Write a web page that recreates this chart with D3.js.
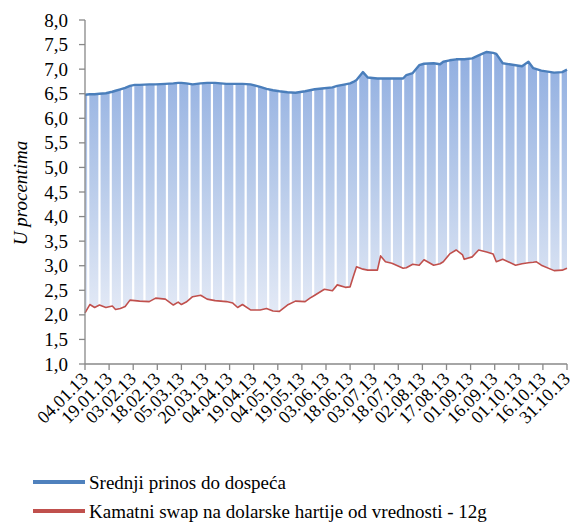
<!DOCTYPE html>
<html><head><meta charset="utf-8">
<script src="https://cdn.jsdelivr.net/npm/d3@7"></script>
</head>
<body><svg id="chart" width="573" height="523"></svg>
<script>
// ---- data ----
const dates = ["2013-01-04","2013-01-07","2013-01-10","2013-01-13","2013-01-17","2013-01-21","2013-01-23","2013-01-26","2013-01-29","2013-02-01","2013-02-04","2013-02-07","2013-02-13","2013-02-17","2013-02-23","2013-02-28","2013-03-03","2013-03-05","2013-03-08","2013-03-12","2013-03-17","2013-03-21","2013-03-26","2013-04-02","2013-04-06","2013-04-09","2013-04-12","2013-04-17","2013-04-23","2013-04-27","2013-05-01","2013-05-05","2013-05-10","2013-05-15","2013-05-21","2013-05-24","2013-05-27","2013-06-02","2013-06-07","2013-06-10","2013-06-15","2013-06-18","2013-06-20","2013-06-22","2013-06-26","2013-06-29","2013-07-05","2013-07-07","2013-07-10","2013-07-14","2013-07-21","2013-07-23","2013-07-27","2013-07-31","2013-08-03","2013-08-09","2013-08-13","2013-08-15","2013-08-19","2013-08-23","2013-08-27","2013-08-28","2013-09-02","2013-09-06","2013-09-11","2013-09-15","2013-09-17","2013-09-21","2013-09-29","2013-10-03","2013-10-07","2013-10-10","2013-10-12","2013-10-15","2013-10-23","2013-10-28","2013-10-31"];
const srednjiPrinos = [6.48,6.49,6.49,6.50,6.51,6.54,6.56,6.59,6.62,6.66,6.68,6.68,6.69,6.69,6.70,6.71,6.72,6.72,6.71,6.69,6.71,6.72,6.72,6.70,6.70,6.70,6.70,6.69,6.64,6.60,6.57,6.55,6.53,6.52,6.55,6.57,6.59,6.61,6.63,6.66,6.69,6.71,6.74,6.78,6.94,6.83,6.81,6.81,6.81,6.81,6.81,6.88,6.92,7.08,7.11,7.12,7.10,7.15,7.18,7.20,7.20,7.20,7.22,7.28,7.35,7.33,7.31,7.12,7.08,7.06,7.15,7.02,7.00,6.97,6.93,6.94,6.99];
const kamatniSwap = [2.04,2.21,2.15,2.20,2.15,2.18,2.11,2.13,2.17,2.30,2.29,2.28,2.27,2.34,2.32,2.20,2.26,2.21,2.26,2.37,2.40,2.32,2.29,2.27,2.24,2.15,2.21,2.10,2.10,2.13,2.08,2.07,2.20,2.28,2.27,2.34,2.40,2.52,2.49,2.61,2.56,2.57,2.78,2.98,2.93,2.91,2.91,3.20,3.08,3.05,2.95,2.96,3.03,3.01,3.12,3.01,3.04,3.08,3.24,3.32,3.22,3.13,3.18,3.32,3.28,3.24,3.08,3.13,3.01,3.04,3.06,3.07,3.08,3.01,2.90,2.91,2.95];
const xTickLabels = ["04.01.13","19.01.13","03.02.13","18.02.13","05.03.13","20.03.13","04.04.13","19.04.13","04.05.13","19.05.13","03.06.13","18.06.13","03.07.13","18.07.13","02.08.13","17.08.13","01.09.13","16.09.13","01.10.13","16.10.13","31.10.13"];
const yTicks = [1.0,1.5,2.0,2.5,3.0,3.5,4.0,4.5,5.0,5.5,6.0,6.5,7.0,7.5,8.0];
const seriesNames = ["Srednji prinos do dospeća","Kamatni swap na dolarske hartije od vrednosti - 12g"];
const yTitle = "U procentima";

// ---- setup ----
const FONT = "'Liberation Serif', monospace";
const parseISO = d3.utcParse("%Y-%m-%d");
const parseLbl = d3.utcParse("%d.%m.%y");
const data = dates.map((d,i)=>({date:parseISO(d), hi:srednjiPrinos[i], lo:kamatniSwap[i]}));
const tickDates = xTickLabels.map(parseLbl);

const svg = d3.select("#chart").style("display","block");
d3.select("body").style("margin","0");
const x = d3.scaleUtc().domain([tickDates[0], tickDates[tickDates.length-1]]).range([85, 567]);
const y = d3.scaleLinear().domain([1, 8]).range([364, 20]);

const defs = svg.append("defs");
const grad = defs.append("linearGradient").attr("id","bandGrad")
  .attr("gradientUnits","userSpaceOnUse").attr("x1",0).attr("x2",0)
  .attr("y1", y(7.4)).attr("y2", y(2.0));
grad.append("stop").attr("offset","0%").attr("stop-color","#8fade0");
grad.append("stop").attr("offset","50%").attr("stop-color","#b8cbea");
grad.append("stop").attr("offset","100%").attr("stop-color","#e4eaf6");

// band between the two series
const area = d3.area().x(d=>x(d.date)).y0(d=>y(d.lo)).y1(d=>y(d.hi));
svg.append("path").datum(data).attr("d", area).attr("fill","url(#bandGrad)");

// weekend gaps (no trading data)
const sundays = d3.utcSunday.range(x.domain()[0], x.domain()[1]);
svg.append("g").selectAll("rect").data(sundays).join("rect")
  .attr("x", d=>x(d)-1.1).attr("width", 2.2)
  .attr("y", y(7.6)).attr("height", y(1.9)-y(7.6))
  .attr("fill","#ffffff");

// lines
const lineHi = d3.line().x(d=>x(d.date)).y(d=>y(d.hi));
const lineLo = d3.line().x(d=>x(d.date)).y(d=>y(d.lo));
svg.append("path").datum(data).attr("d", lineHi).attr("fill","none")
  .attr("stroke","#4a7ebb").attr("stroke-width",2.4).attr("stroke-linejoin","round");
svg.append("path").datum(data).attr("d", lineLo).attr("fill","none")
  .attr("stroke","#c0504d").attr("stroke-width",1.6).attr("stroke-linejoin","round");

// axes (drawn manually from scales, plain text elements)
const axisColor = "#888888";
const ax = svg.append("g");
ax.append("line").attr("x1",x.range()[0]).attr("x2",x.range()[0]).attr("y1",y(8)).attr("y2",y(1))
  .attr("stroke",axisColor).attr("stroke-width",1.3);
ax.append("line").attr("x1",x.range()[0]).attr("x2",x.range()[1]).attr("y1",y(1)).attr("y2",y(1))
  .attr("stroke",axisColor).attr("stroke-width",1.3);
yTicks.forEach(v=>{
  ax.append("line").attr("x1",x.range()[0]-6).attr("x2",x.range()[0]).attr("y1",y(v)).attr("y2",y(v))
    .attr("stroke",axisColor).attr("stroke-width",1.3);
  svg.append("text").attr("x",x.range()[0]-17).attr("y",y(v)+6.5).attr("text-anchor","end")
    .attr("font-size",19).style("font-family",FONT).text(d3.format(".1f")(v).replace(".",","));
});
tickDates.forEach((d,i)=>{
  ax.append("line").attr("x1",x(d)).attr("x2",x(d)).attr("y1",y(1)).attr("y2",y(1)+6)
    .attr("stroke",axisColor).attr("stroke-width",1.3);
  svg.append("text").attr("text-anchor","end").attr("font-size",18).style("font-family",FONT)
    .attr("transform",`translate(${x(d)+4},${y(1)+16}) rotate(-45)`).text(xTickLabels[i]);
});

// y title
svg.append("text").attr("transform","translate(27,193) rotate(-90)")
  .attr("text-anchor","middle").attr("font-size",19).style("font-family",FONT).style("font-style","italic")
  .text(yTitle);

// legend
const legColors = ["#4f81bd","#c0504d"];
seriesNames.forEach((n,i)=>{
  const ly = 482 + i*29;
  svg.append("line").attr("x1",33).attr("x2",85).attr("y1",ly).attr("y2",ly)
    .attr("stroke",legColors[i]).attr("stroke-width",4);
  svg.append("text").attr("x",89).attr("y",ly+6.5)
    .attr("font-size",19).style("font-family",FONT).text(n);
});
</script></body></html>
